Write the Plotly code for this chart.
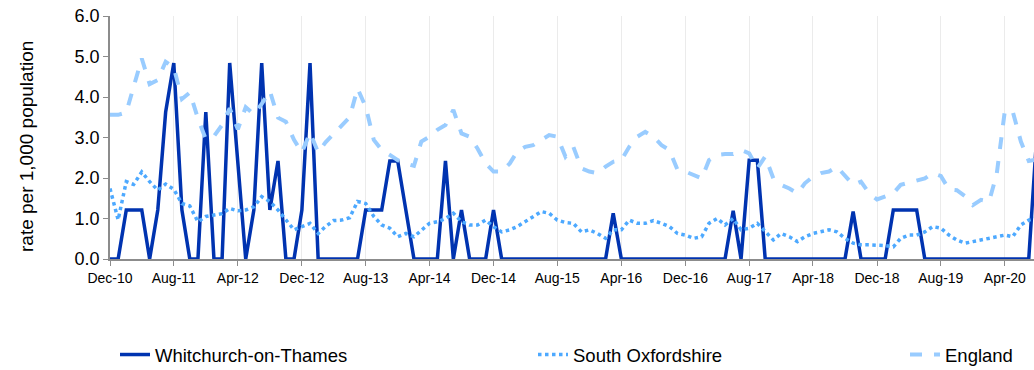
import pandas as pd
import plotly.graph_objects as go

# Monthly periods, Dec 2010 onwards
months = pd.date_range("2010-12-01", periods=117, freq="MS")

whitchurch = [
    0, 0, 1.21, 1.21, 1.21, 0, 1.21, 3.63, 4.84, 1.21,
    0, 0, 3.63, 0, 0, 4.84, 2.42, 0, 1.21, 4.84,
    1.21, 2.42, 0, 0, 1.21, 4.84, 0, 0, 0, 0,
    0, 0, 1.21, 1.21, 1.21, 2.42, 2.42, 1.21, 0, 0,
    0, 0, 2.42, 0, 1.21, 0, 0, 0, 1.21, 0,
    0, 0, 0, 0, 0, 0, 0, 0, 0, 0,
    0, 0, 0, 1.13, 0, 0, 0, 0, 0, 0,
    0, 0, 0, 0, 0, 0, 0, 0, 1.19, 0,
    2.44, 2.44, 0, 0, 0, 0, 0, 0, 0, 0,
    0, 0, 0, 1.17, 0, 0, 0, 0, 1.21, 1.21,
    1.21, 1.21, 0, 0, 0, 0, 0, 0, 0, 0,
    0, 0, 0, 0, 0, 0, 3.1,
]

south_oxfordshire = [
    1.74, 0.97, 1.91, 1.84, 2.15, 1.91, 1.70, 1.85, 1.72, 1.37,
    1.31, 0.92, 1.05, 1.09, 1.12, 1.25, 1.19, 1.21, 1.29, 1.54,
    1.42, 1.21, 0.96, 0.72, 0.80, 0.88, 0.63, 0.80, 0.95, 0.96,
    1.02, 1.42, 1.37, 1.05, 0.84, 0.76, 0.55, 0.63, 0.55, 0.72,
    0.88, 0.92, 1.00, 1.13, 0.92, 0.84, 0.84, 0.96, 0.80, 0.67,
    0.72, 0.80, 0.92, 1.05, 1.17, 1.13, 0.96, 0.90, 0.88, 0.67,
    0.72, 0.63, 0.51, 0.72, 0.72, 0.96, 0.88, 0.88, 0.95, 0.88,
    0.80, 0.63, 0.59, 0.51, 0.55, 0.88, 1.00, 0.84, 1.00, 0.72,
    0.76, 0.88, 0.67, 0.47, 0.63, 0.55, 0.43, 0.55, 0.63, 0.67,
    0.72, 0.67, 0.51, 0.39, 0.35, 0.35, 0.35, 0.33, 0.30, 0.51,
    0.59, 0.59, 0.67, 0.80, 0.76, 0.59, 0.47, 0.39, 0.43, 0.47,
    0.53, 0.55, 0.59, 0.55, 0.84, 0.96, 1.02,
]

england = [
    3.56, 3.56, 3.62, 4.28, 4.95, 4.32, 4.42, 4.87, 4.73, 3.95,
    4.11, 3.47, 2.96, 3.03, 3.31, 3.72, 3.20, 3.75, 3.57, 3.83,
    4.15, 3.49, 3.39, 2.94, 2.63, 3.12, 2.63, 2.88, 3.08, 3.29,
    3.50, 4.21, 3.76, 2.94, 2.69, 2.57, 2.44, 2.36, 2.30, 2.90,
    3.02, 3.19, 3.31, 3.68, 3.10, 3.02, 2.73, 2.36, 2.16, 2.16,
    2.36, 2.65, 2.77, 2.81, 2.94, 3.06, 3.02, 2.53, 2.77, 2.24,
    2.16, 2.12, 2.28, 2.40, 2.44, 2.77, 3.02, 3.14, 3.02, 2.81,
    2.69, 2.20, 2.16, 2.07, 1.99, 2.44, 2.57, 2.59, 2.59, 2.69,
    2.61, 2.24, 2.53, 1.99, 1.83, 1.74, 1.62, 1.87, 2.03, 2.12,
    2.16, 2.28, 2.07, 1.83, 1.91, 1.62, 1.47, 1.54, 1.62, 1.83,
    1.88, 1.95, 1.99, 2.12, 2.05, 1.72, 1.70, 1.55, 1.33, 1.46,
    1.42, 2.10, 3.66, 3.64, 2.90, 2.42, 2.46,
]

FONT = "Liberation Sans, Arial, sans-serif"
Y_TITLE = "rate per 1,000 population"

fig = go.Figure()
fig.add_trace(go.Scatter(
    x=months, y=whitchurch, name="Whitchurch-on-Thames", mode="lines",
    line=dict(color="#0033b0", width=3.5), legend="legend",
))
fig.add_trace(go.Scatter(
    x=months, y=south_oxfordshire, name="South Oxfordshire", mode="lines",
    line=dict(color="#4da9ff", width=3.5, dash="dot"), legend="legend2",
))
fig.add_trace(go.Scatter(
    x=months, y=england, name="England", mode="lines",
    line=dict(color="#99ccff", width=4, dash="dash"), legend="legend3",
))


def legend_box(x_px):
    # one single-entry legend per series, spread along the bottom
    return dict(
        orientation="h", xref="container", yref="container",
        x=x_px / 1034, y=(370 - 355) / 370, xanchor="left", yanchor="middle",
        font=dict(size=18.5, family=FONT, color="#000000"),
        bgcolor="rgba(0,0,0,0)",
    )


fig.update_layout(
    width=1034, height=370,
    margin=dict(l=110, r=0, t=16, b=111),
    paper_bgcolor="white", plot_bgcolor="white",
    font=dict(family=FONT, color="#000000"),
    showlegend=True,
    legend=legend_box(115),
    legend2=legend_box(533),
    legend3=legend_box(905),
)

# vertical axis title, placed a little below the plot's mid-height
fig.add_annotation(
    text=Y_TITLE, textangle=-90, showarrow=False,
    xref="paper", yref="paper",
    x=(26 - 110) / 924, y=(259 - 147) / 243,
    xanchor="center", yanchor="middle",
    font=dict(size=19, family=FONT, color="#000000"),
)

fig.update_xaxes(
    type="date",
    range=["2010-12-01", "2020-07-21"],
    tick0="2010-12-01", dtick="M8", tickformat="%b-%y",
    tickfont=dict(size=14, family=FONT),
    showgrid=True, gridcolor="#ebebeb", gridwidth=1,
    showline=True, linecolor="#8c8c8c", linewidth=1.5,
    ticks="outside", ticklen=5, tickcolor="#8c8c8c",
    zeroline=False,
)
fig.update_yaxes(
    range=[0, 6], dtick=1, tickformat=".1f",
    tickfont=dict(size=18, family=FONT),
    showgrid=False,
    showline=True, linecolor="#8c8c8c", linewidth=1.5,
    ticks="outside", ticklen=5, tickcolor="#8c8c8c",
    zeroline=False,
)

fig.write_html("out.html")
